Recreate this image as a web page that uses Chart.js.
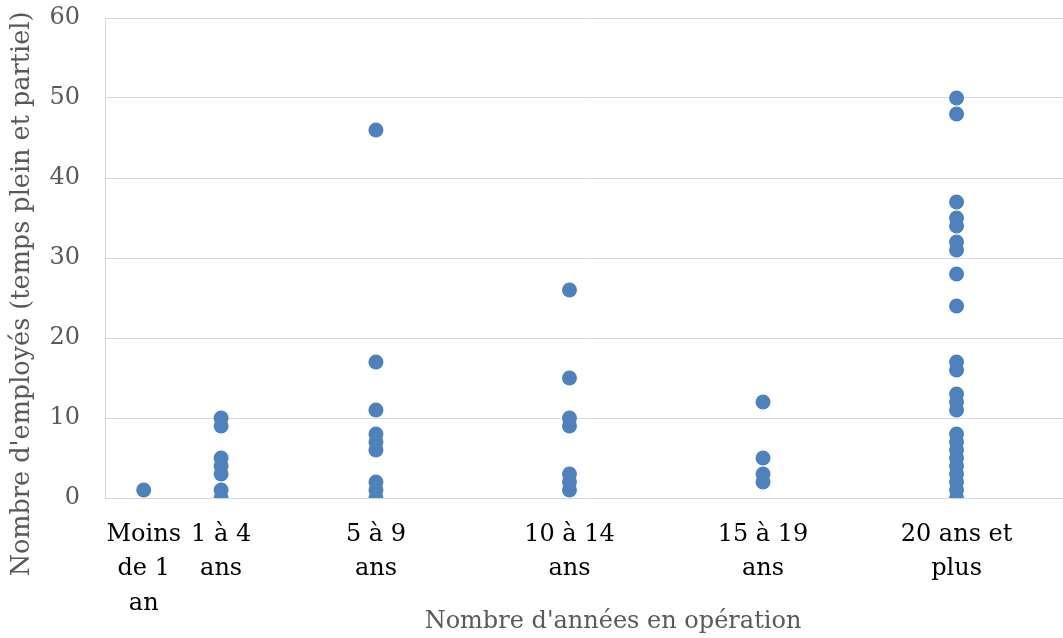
<!DOCTYPE html>
<html>
<head>
<meta charset="utf-8">
<script src="https://cdn.jsdelivr.net/npm/chart.js@4"></script>
<style>
  html, body { margin: 0; padding: 0; background: #fff; overflow: hidden; }
  #wrap { width: 1063px; height: 638px; }
</style>
</head>
<body>
<div id="wrap"><canvas id="employesChart" width="1063" height="638"></canvas></div>
<script>
// Années en opération : position sur l'axe et libellé (multi-lignes)
const xPositions = [1, 3, 7, 12, 17, 22];
const tickLabels = [
    ['Moins', 'de 1', 'an'],
    ['1 à 4', 'ans'],
    ['5 à 9', 'ans'],
    ['10 à 14', 'ans'],
    ['15 à 19', 'ans'],
    ['20 ans et', 'plus']
];

// Nombre d'employés par entreprise, pour chaque tranche
const moinsDe1 = [1];
const de1a4 = [10, 9, 5, 4, 3, 1, 0];
const de5a9 = [46, 17, 11, 8, 7, 6, 2, 1, 0];
const de10a14 = [26, 15, 10, 9, 3, 2, 1];
const de15a19 = [12, 5, 3, 2];
const plusDe20 = [50, 48, 37, 35, 34, 32, 31, 28, 24, 17, 16, 13, 12, 11, 8, 7, 6, 5, 4, 3, 2, 1, 0];

const yTicks = [0, 10, 20, 30, 40, 50, 60];

const groups = [moinsDe1, de1a4, de5a9, de10a14, de15a19, plusDe20];
const points = [];
groups.forEach((vals, i) => {
    vals.forEach(v => points.push({ x: xPositions[i], y: v }));
});

const serif = '"DejaVu Serif", serif';
const gridColor = '#d9d9d9';
const titleColor = '#595959';

// Titres des axes dessinés à la main
const axisTitles = {
    id: 'axisTitles',
    afterDraw(chart) {
        const ctx = chart.ctx;
        ctx.save();
        ctx.fillStyle = titleColor;
        ctx.textAlign = 'center';
        ctx.textBaseline = 'middle';
        ctx.font = '24px ' + serif;
        ctx.fillText("Nombre d'années en opération", 613, 622);
        ctx.font = '25.5px ' + serif;
        ctx.translate(22, 294);
        ctx.rotate(-Math.PI / 2);
        ctx.fillText("Nombre d'employés (temps plein et partiel)", 0, 0);
        ctx.restore();
    }
};

const ctx = document.getElementById('employesChart').getContext('2d');
new Chart(ctx, {
    type: 'scatter',
    data: {
        datasets: [{
            label: 'Employés',
            data: points,
            backgroundColor: '#4F81BD',
            borderWidth: 0,
            pointRadius: 7.5,
            pointHoverRadius: 7.5
        }]
    },
    options: {
        responsive: false,
        maintainAspectRatio: false,
        animation: false,
        layout: {
            autoPadding: false,
            padding: { top: 18, right: 0, left: 0, bottom: 0 }
        },
        plugins: {
            legend: { display: false },
            tooltip: { enabled: false }
        },
        scales: {
            x: {
                type: 'linear',
                min: 0,
                max: 24.75,
                afterBuildTicks: scale => {
                    scale.ticks = xPositions.map(v => ({ value: v }));
                },
                afterFit: scale => {
                    scale.height = 140;
                    scale.paddingLeft = 0;
                    scale.paddingRight = 0;
                },
                grid: { display: false, drawTicks: false },
                border: { display: false },
                ticks: {
                    autoSkip: false,
                    maxRotation: 0,
                    padding: 19,
                    color: '#000',
                    font: { family: serif, size: 24, lineHeight: 1.45 },
                    callback: value => tickLabels[xPositions.indexOf(value)]
                }
            },
            y: {
                min: 0,
                max: 60,
                afterBuildTicks: scale => {
                    scale.ticks = yTicks.map(v => ({ value: v }));
                },
                afterFit: scale => {
                    scale.width = 105;
                    scale.paddingTop = 0;
                    scale.paddingBottom = 0;
                },
                grid: { color: gridColor, lineWidth: 1, drawTicks: false },
                border: { display: true, color: gridColor, width: 1 },
                ticks: {
                    padding: 25,
                    color: titleColor,
                    font: { family: serif, size: 24 }
                }
            }
        }
    },
    plugins: [axisTitles]
});
</script>
</body>
</html>
